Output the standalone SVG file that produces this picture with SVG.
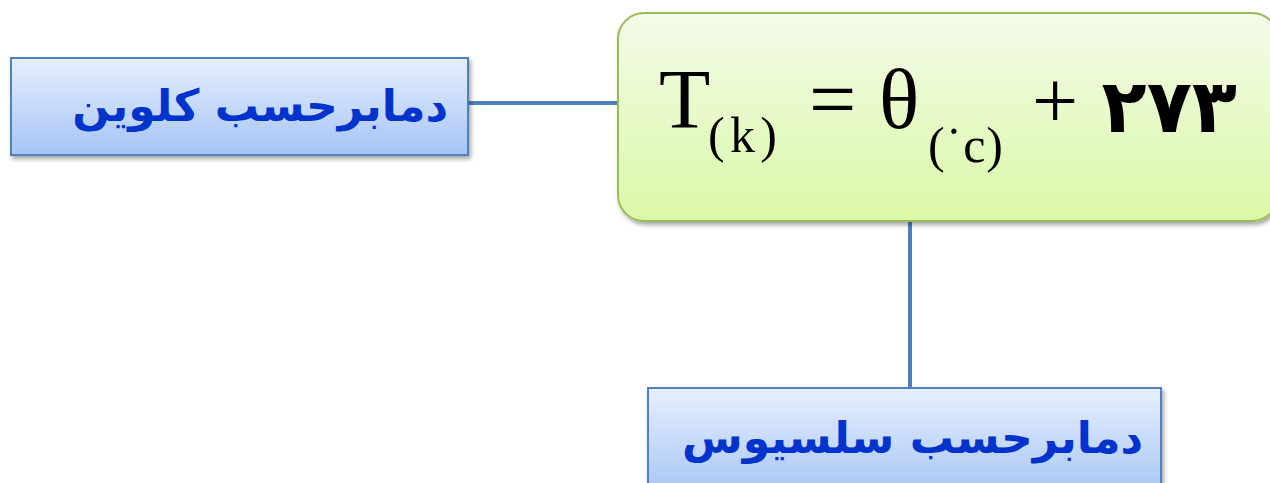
<svg xmlns="http://www.w3.org/2000/svg" width="1270" height="483" viewBox="0 0 1270 483">
<style>
.lbl{font-family:"DejaVu Sans",sans-serif;font-weight:bold;fill:#0033cc;font-size:44px}
.box{stroke:#4f81bd;stroke-width:2;fill:url(#blueG)}
.conn{stroke:#4f7fbf;stroke-width:4;fill:none}
.math{font-family:"Liberation Serif",serif;fill:#000}
</style>
<defs>
<linearGradient id="blueG" x1="0" y1="0" x2="0" y2="1">
<stop offset="0" stop-color="#e6effd"/>
<stop offset="1" stop-color="#a6c4f6"/>
</linearGradient>
<linearGradient id="greenG" x1="0" y1="0" x2="0" y2="1">
<stop offset="0" stop-color="#f4fbea"/>
<stop offset="1" stop-color="#daf8a6"/>
</linearGradient>
<filter id="sh" x="-5%" y="-5%" width="110%" height="120%">
<feDropShadow dx="2" dy="3" stdDeviation="2" flood-color="#000" flood-opacity="0.35"/>
</filter>
</defs>
<g id="connectors">
<line class="conn" x1="468" y1="103" x2="620" y2="103"/>
<line class="conn" x1="910" y1="220" x2="910" y2="389"/>
</g>
<g id="kelvin">
<rect class="box" x="11" y="58" width="457" height="97" filter="url(#sh)"/>
<text class="lbl" x="448" y="121" text-anchor="end">دمابرحسب کلوین</text>
</g>
<g id="formula">
<rect x="618" y="13" width="660" height="208" rx="26" fill="url(#greenG)" stroke="#9bbb59" stroke-width="2" filter="url(#sh)"/>
<text class="math" x="659" y="128" font-size="84">T</text>
<text class="math" x="708" y="152" font-size="50" textLength="69" lengthAdjust="spacing">(k)</text>
<text class="math" x="809" y="128" font-size="84">=</text>
<text class="math" x="879" y="128" font-size="84">θ</text>
<text class="math" x="928" y="162" font-size="50" textLength="75" lengthAdjust="spacing">(˙c)</text>
<text class="math" x="1032" y="128" font-size="82">+</text>
<text x="1237" y="132" font-family="DejaVu Sans,sans-serif" font-weight="bold" font-size="74" text-anchor="end" letter-spacing="10" fill="#000">۲۷۳</text>
</g>
<g id="celsius">
<rect class="box" x="648" y="388" width="513" height="110" filter="url(#sh)"/>
<text class="lbl" x="1143" y="453" text-anchor="end">دمابرحسب سلسیوس</text>
</g>
</svg>
